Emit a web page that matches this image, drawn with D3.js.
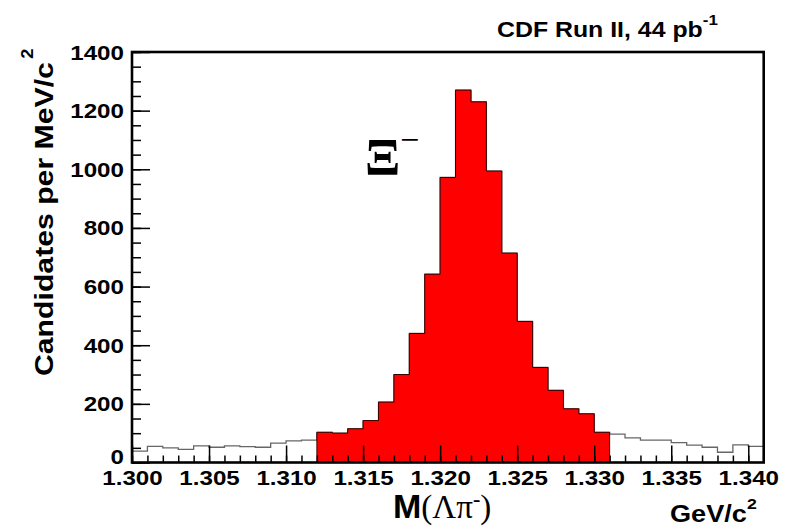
<!DOCTYPE html>
<html>
<head>
<meta charset="utf-8">
<script src="https://cdn.jsdelivr.net/npm/d3@7/dist/d3.min.js"></script>
<style>
  body { margin: 0; background: #fff; }
  text { font-family: "Liberation Sans", Arial, sans-serif; font-weight: bold; fill: #000; }
</style>
</head>
<body>
<div id="chart"></div>
<script>
// histogram: 41 bins of 1 MeV starting at 1.300 GeV/c^2
var binStart = 1.300, binWidth = 0.001;
var counts = [39, 55, 50, 45, 57, 52, 57, 54, 52, 66, 74, 76,
              103, 100, 115, 143, 206, 300, 440, 642, 972, 1270, 1230, 994, 714, 481, 324, 246, 183, 166, 103,
              97, 84, 76, 76, 68, 59, 52, 35, 60, 55];
// signal window (filled red)
var signalLo = 1.312, signalHi = 1.331;
// axes
var xTicks = [1.300, 1.305, 1.310, 1.315, 1.320, 1.325, 1.330, 1.335, 1.340];
var yTicks = [0, 200, 400, 600, 800, 1000, 1200, 1400];

var W = 794, H = 526;
var textStretch = 1.15; // ROOT text is wider than Liberation

var svg = d3.select('#chart').append('svg')
    .attr('width', W)
    .attr('height', H);

var x = d3.scaleLinear().domain([1.300, 1.341]).range([132, 763.7]);
var y = d3.scaleLinear().domain([0, 1400]).range([462.5, 52]);

var bins = counts.map(function(c, i) {
    return { x0: binStart + i * binWidth, n: c };
});
var lastBin = bins[bins.length - 1];
var outlinePts = bins.concat([{ x0: lastBin.x0 + binWidth, n: lastBin.n }]);

// full histogram outline
var step = d3.line()
    .curve(d3.curveStepAfter)
    .x(function(d) { return x(d.x0); })
    .y(function(d) { return y(d.n); });
svg.append('path')
    .datum(outlinePts)
    .attr('d', step)
    .attr('fill', 'none')
    .attr('stroke', '#666')
    .attr('stroke-width', 1.3);

// signal region
var sig = bins.filter(function(d) { return d.x0 > signalLo - 1e-9 && d.x0 < signalHi - 1e-9; });
var sigPts = sig.concat([{ x0: signalHi, n: sig[sig.length - 1].n }]);
var area = d3.area()
    .curve(d3.curveStepAfter)
    .x(function(d) { return x(d.x0); })
    .y0(y(0))
    .y1(function(d) { return y(d.n); });
svg.append('path')
    .datum(sigPts)
    .attr('d', area)
    .attr('fill', '#ff0000')
    .attr('stroke', '#3a0000')
    .attr('stroke-width', 1);

// x axis, ticks pointing up into the frame
var xMinor = d3.range(0, 41).map(function(i) { return binStart + i * binWidth; });
svg.append('g')
    .attr('transform', 'translate(0,' + y(0) + ')')
    .call(d3.axisBottom(x).tickValues(xMinor).tickSize(-7).tickFormat(''))
    .call(function(g) { g.select('.domain').remove(); });
var gx = svg.append('g')
    .attr('transform', 'translate(0,' + y(0) + ')')
    .call(d3.axisBottom(x).tickValues(xTicks).tickSize(-17).tickFormat(d3.format('.3f')));
gx.select('.domain').remove();
gx.selectAll('text')
    .attr('y', 22.5)
    .attr('dy', null)
    .attr('font-size', 21)
    .attr('transform', 'scale(' + textStretch + ',1)');

// y axis, ticks pointing right into the frame
svg.append('g')
    .attr('transform', 'translate(' + x(1.300) + ',0)')
    .call(d3.axisLeft(y).tickValues(d3.range(0, 1401, 50)).tickSize(-9).tickFormat(''))
    .call(function(g) { g.select('.domain').remove(); });
var gy = svg.append('g')
    .attr('transform', 'translate(' + x(1.300) + ',0)')
    .call(d3.axisLeft(y).tickValues(yTicks).tickSize(-18).tickPadding(7).tickFormat(d3.format('d')));
gy.select('.domain').remove();
gy.selectAll('text')
    .attr('dy', function(d) { return d === 0 ? 1 : 7; })
    .attr('font-size', 21)
    .attr('transform', 'scale(' + textStretch + ',1)');

svg.selectAll('.tick line').attr('stroke', '#000').attr('stroke-width', 1.5);
svg.selectAll('.tick text').attr('fill', '#000').style('font-family', '"Liberation Sans", Arial, sans-serif').style('font-weight', 'bold');

// frame
svg.append('rect')
    .attr('x', x(1.300))
    .attr('y', y(1400))
    .attr('width', x(1.341) - x(1.300))
    .attr('height', y(0) - y(1400))
    .attr('fill', 'none')
    .attr('stroke', '#000')
    .attr('stroke-width', 2.6);

// y title
var yt = svg.append('text')
    .attr('transform', 'translate(53,376) rotate(-90) scale(1.14,1)')
    .attr('font-size', 26.5);
yt.append('tspan').text('Candidates per MeV/c');
yt.append('tspan').attr('font-size', 16).attr('dx', 3).attr('dy', -20).text('2');

// x title
var xt = svg.append('text')
    .attr('x', 393)
    .attr('y', 518);
xt.append('tspan').attr('font-size', 34).text('M');
xt.append('tspan').attr('font-size', 33).style('font-family', '"Liberation Serif", serif').style('font-weight', 'normal').text('(\u039B\u03C0');
xt.append('tspan').attr('font-size', 22).attr('dy', -12).style('font-family', '"Liberation Serif", serif').text('-');
xt.append('tspan').attr('font-size', 33).attr('dy', 12).style('font-family', '"Liberation Serif", serif').style('font-weight', 'normal').text(')');

// units
var ut = svg.append('text')
    .attr('transform', 'translate(670,522) scale(1.18,1)')
    .attr('font-size', 23);
ut.append('tspan').text('GeV/c');
ut.append('tspan').attr('font-size', 15).attr('dy', -13).text('2');

// luminosity label
var lt = svg.append('text')
    .attr('transform', 'translate(497,37.3) scale(1.13,1)')
    .attr('font-size', 22);
lt.append('tspan').text('CDF Run II, 44 pb');
lt.append('tspan').attr('font-size', 15).attr('dy', -12).text('-1');

// particle label
svg.append('text')
    .attr('x', 365)
    .attr('y', 175)
    .attr('font-size', 52)
    .style('font-family', '"Liberation Serif", serif')
    .text('\u039E');
svg.append('text')
    .attr('x', 400)
    .attr('y', 151)
    .attr('font-size', 34)
    .style('font-family', '"Liberation Serif", serif')
    .style('font-weight', 'normal')
    .text('\u2212');
</script>
</body>
</html>
